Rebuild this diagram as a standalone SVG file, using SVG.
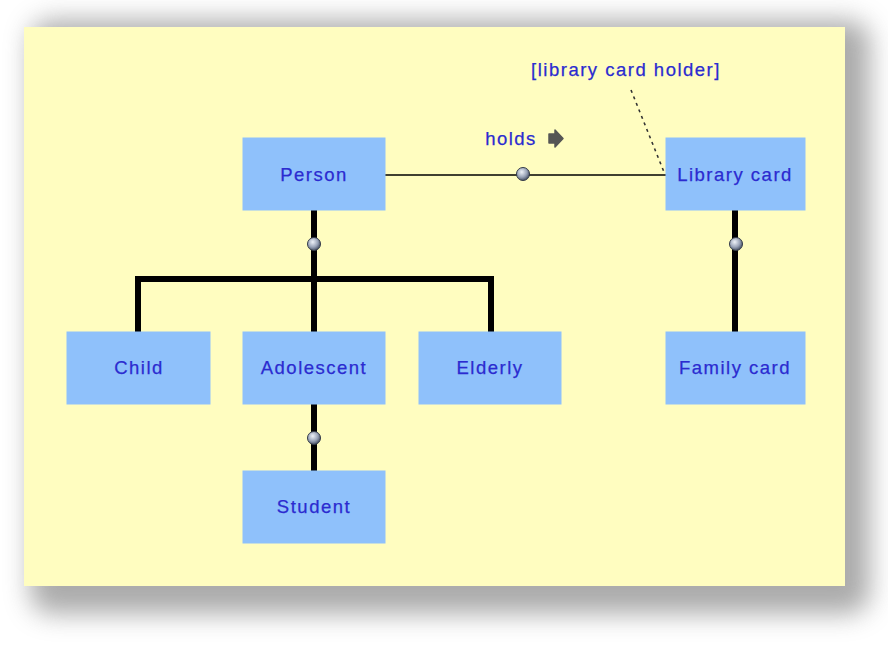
<svg xmlns="http://www.w3.org/2000/svg" width="888" height="646" viewBox="0 0 888 646">
<defs>
<filter id="sh" x="-20%" y="-20%" width="140%" height="140%"><feGaussianBlur stdDeviation="13"/></filter>
<radialGradient id="ball" cx="40%" cy="35%" r="65%"><stop offset="0" stop-color="#eef2f8"/><stop offset="0.6" stop-color="#9aa4b8"/><stop offset="1" stop-color="#4a5468"/></radialGradient>
<style>
.box{fill:#8fc1fb;stroke:#8fc1fb;stroke-width:1}
.lbl{font-family:"Liberation Sans",Arial,sans-serif;font-size:18.5px;letter-spacing:1.5px;fill:#2b2bd0;stroke:#2b2bd0;stroke-width:0.25;text-anchor:middle}
.thick{stroke:#000;stroke-width:6;fill:none}
.thin{stroke:#000;stroke-width:1.5;fill:none}
.ball{fill:url(#ball);stroke:#333a48;stroke-width:1}
</style>
</defs>
<rect width="888" height="646" fill="#fff"/>
<rect x="30" y="20" width="840" height="594" rx="22" fill="#888" opacity="0.7" filter="url(#sh)"/>
<rect x="24" y="27" width="821" height="559" fill="#fffdc0"/>
<g id="connectors">
<line class="thin" x1="385" y1="175" x2="666" y2="175"/>
<line x1="631" y1="90" x2="664" y2="172" stroke="#333" stroke-width="1.6" stroke-dasharray="3,4"/>
<polyline class="thick" points="314,210 314,332"/>
<polyline class="thick" points="138,332 138,279 491,279 491,332"/>
<polyline class="thick" points="314,404 314,471"/>
<polyline class="thick" points="735,210 735,332"/>
<circle class="ball" cx="523" cy="174" r="6.5"/>
<circle class="ball" cx="314" cy="244" r="6.5"/>
<circle class="ball" cx="314" cy="438" r="6.5"/>
<circle class="ball" cx="736" cy="244" r="6.5"/>
<text class="lbl" x="511" y="145">holds</text>
<path d="M549,134 L555,134 L555,130 L563,138.5 L555,147 L555,143 L549,143 Z" fill="#555" stroke="#555" stroke-width="1.5" stroke-linejoin="round"/>
<text class="lbl" x="626" y="76">[library card holder]</text>
</g>
<g id="person"><rect class="box" x="243" y="138" width="142" height="72"/><text class="lbl" x="314" y="181">Person</text></g>
<g id="library-card"><rect class="box" x="666" y="138" width="139" height="72"/><text class="lbl" x="735" y="181">Library card</text></g>
<g id="child"><rect class="box" x="67" y="332" width="143" height="72"/><text class="lbl" x="139" y="374">Child</text></g>
<g id="adolescent"><rect class="box" x="243" y="332" width="142" height="72"/><text class="lbl" x="314" y="374">Adolescent</text></g>
<g id="elderly"><rect class="box" x="419" y="332" width="142" height="72"/><text class="lbl" x="490" y="374">Elderly</text></g>
<g id="family-card"><rect class="box" x="666" y="332" width="139" height="72"/><text class="lbl" x="735" y="374">Family card</text></g>
<g id="student"><rect class="box" x="243" y="471" width="142" height="72"/><text class="lbl" x="314" y="513">Student</text></g>
</svg>
